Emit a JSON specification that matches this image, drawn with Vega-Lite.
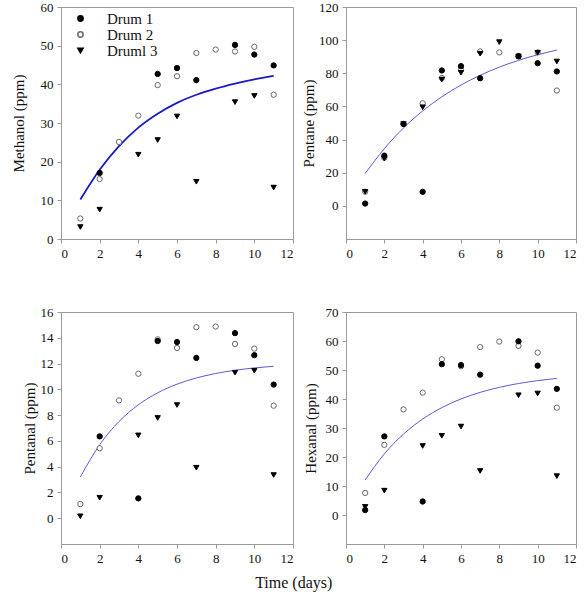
{
  "$schema": "https://vega.github.io/schema/vega-lite/v6.json",
  "background": "white",
  "padding": {"left": 10, "top": 0, "right": 5, "bottom": 5},
  "config": {
    "view": {"stroke": "#9a9a9a", "strokeWidth": 1},
    "axis": {
      "grid": false,
      "domainColor": "#9a9a9a",
      "tickColor": "#9a9a9a",
      "tickSize": 4,
      "labelFont": "Liberation Serif",
      "labelFontSize": 13,
      "labelColor": "#111",
      "labelPadding": 4,
      "titleFont": "Liberation Serif",
      "titleFontSize": 15,
      "titleFontWeight": "normal",
      "titleColor": "#111"
    }
  },
  "title": {"text": "Time (days)", "orient": "bottom", "anchor": "middle", "fontSize": 16, "fontWeight": "normal", "font": "Liberation Serif", "color": "#111", "offset": 9},
  "datasets": {
    "points": [
      {"panel": "M", "drum": "Drum 2", "day": 1, "value": 5.3},
      {"panel": "M", "drum": "Drum 2", "day": 2, "value": 15.5},
      {"panel": "M", "drum": "Drum 2", "day": 3, "value": 25.1},
      {"panel": "M", "drum": "Drum 2", "day": 4, "value": 31.9},
      {"panel": "M", "drum": "Drum 2", "day": 5, "value": 39.8},
      {"panel": "M", "drum": "Drum 2", "day": 6, "value": 42.1},
      {"panel": "M", "drum": "Drum 2", "day": 7, "value": 48.1},
      {"panel": "M", "drum": "Drum 2", "day": 8, "value": 49.0},
      {"panel": "M", "drum": "Drum 2", "day": 9, "value": 48.5},
      {"panel": "M", "drum": "Drum 2", "day": 10, "value": 49.7},
      {"panel": "M", "drum": "Drum 2", "day": 11, "value": 37.3},
      {"panel": "M", "drum": "Drum 1", "day": 2, "value": 17.1},
      {"panel": "M", "drum": "Drum 1", "day": 5, "value": 42.7},
      {"panel": "M", "drum": "Drum 1", "day": 6, "value": 44.2},
      {"panel": "M", "drum": "Drum 1", "day": 7, "value": 41.1},
      {"panel": "M", "drum": "Drum 1", "day": 9, "value": 50.2},
      {"panel": "M", "drum": "Drum 1", "day": 10, "value": 47.7},
      {"panel": "M", "drum": "Drum 1", "day": 11, "value": 44.9},
      {"panel": "M", "drum": "Druml 3", "day": 1, "value": 3.1},
      {"panel": "M", "drum": "Druml 3", "day": 2, "value": 7.6},
      {"panel": "M", "drum": "Druml 3", "day": 4, "value": 21.8},
      {"panel": "M", "drum": "Druml 3", "day": 5, "value": 25.6},
      {"panel": "M", "drum": "Druml 3", "day": 6, "value": 31.7},
      {"panel": "M", "drum": "Druml 3", "day": 7, "value": 14.8},
      {"panel": "M", "drum": "Druml 3", "day": 9, "value": 35.4},
      {"panel": "M", "drum": "Druml 3", "day": 10, "value": 37.0},
      {"panel": "M", "drum": "Druml 3", "day": 11, "value": 13.3},

      {"panel": "P", "drum": "Drum 2", "day": 1, "value": 8.5},
      {"panel": "P", "drum": "Drum 2", "day": 2, "value": 29.0},
      {"panel": "P", "drum": "Drum 2", "day": 3, "value": 49.4},
      {"panel": "P", "drum": "Drum 2", "day": 4, "value": 61.9},
      {"panel": "P", "drum": "Drum 2", "day": 5, "value": 77.2},
      {"panel": "P", "drum": "Drum 2", "day": 6, "value": 82.1},
      {"panel": "P", "drum": "Drum 2", "day": 7, "value": 93.2},
      {"panel": "P", "drum": "Drum 2", "day": 8, "value": 92.6},
      {"panel": "P", "drum": "Drum 2", "day": 9, "value": 90.4},
      {"panel": "P", "drum": "Drum 2", "day": 10, "value": 92.6},
      {"panel": "P", "drum": "Drum 2", "day": 11, "value": 69.6},
      {"panel": "P", "drum": "Drum 1", "day": 1, "value": 1.4},
      {"panel": "P", "drum": "Drum 1", "day": 2, "value": 30.3},
      {"panel": "P", "drum": "Drum 1", "day": 3, "value": 49.4},
      {"panel": "P", "drum": "Drum 1", "day": 4, "value": 8.5},
      {"panel": "P", "drum": "Drum 1", "day": 5, "value": 81.7},
      {"panel": "P", "drum": "Drum 1", "day": 6, "value": 84.3},
      {"panel": "P", "drum": "Drum 1", "day": 7, "value": 77.0},
      {"panel": "P", "drum": "Drum 1", "day": 9, "value": 90.2},
      {"panel": "P", "drum": "Drum 1", "day": 10, "value": 86.1},
      {"panel": "P", "drum": "Drum 1", "day": 11, "value": 81.1},
      {"panel": "P", "drum": "Druml 3", "day": 1, "value": 8.5},
      {"panel": "P", "drum": "Druml 3", "day": 2, "value": 28.6},
      {"panel": "P", "drum": "Druml 3", "day": 3, "value": 49.4},
      {"panel": "P", "drum": "Druml 3", "day": 4, "value": 59.5},
      {"panel": "P", "drum": "Druml 3", "day": 5, "value": 76.2},
      {"panel": "P", "drum": "Druml 3", "day": 6, "value": 80.3},
      {"panel": "P", "drum": "Druml 3", "day": 7, "value": 91.8},
      {"panel": "P", "drum": "Druml 3", "day": 8, "value": 98.8},
      {"panel": "P", "drum": "Druml 3", "day": 9, "value": 90.2},
      {"panel": "P", "drum": "Druml 3", "day": 10, "value": 92.4},
      {"panel": "P", "drum": "Druml 3", "day": 11, "value": 87.1},

      {"panel": "N", "drum": "Drum 2", "day": 1, "value": 1.1},
      {"panel": "N", "drum": "Drum 2", "day": 2, "value": 5.43},
      {"panel": "N", "drum": "Drum 2", "day": 3, "value": 9.14},
      {"panel": "N", "drum": "Drum 2", "day": 4, "value": 11.21},
      {"panel": "N", "drum": "Drum 2", "day": 5, "value": 13.88},
      {"panel": "N", "drum": "Drum 2", "day": 6, "value": 13.21},
      {"panel": "N", "drum": "Drum 2", "day": 7, "value": 14.82},
      {"panel": "N", "drum": "Drum 2", "day": 8, "value": 14.87},
      {"panel": "N", "drum": "Drum 2", "day": 9, "value": 13.52},
      {"panel": "N", "drum": "Drum 2", "day": 10, "value": 13.16},
      {"panel": "N", "drum": "Drum 2", "day": 11, "value": 8.73},
      {"panel": "N", "drum": "Drum 1", "day": 2, "value": 6.35},
      {"panel": "N", "drum": "Drum 1", "day": 4, "value": 1.54},
      {"panel": "N", "drum": "Drum 1", "day": 5, "value": 13.75},
      {"panel": "N", "drum": "Drum 1", "day": 6, "value": 13.67},
      {"panel": "N", "drum": "Drum 1", "day": 7, "value": 12.44},
      {"panel": "N", "drum": "Drum 1", "day": 9, "value": 14.36},
      {"panel": "N", "drum": "Drum 1", "day": 10, "value": 12.65},
      {"panel": "N", "drum": "Drum 1", "day": 11, "value": 10.37},
      {"panel": "N", "drum": "Druml 3", "day": 1, "value": 0.15},
      {"panel": "N", "drum": "Druml 3", "day": 2, "value": 1.59},
      {"panel": "N", "drum": "Druml 3", "day": 4, "value": 6.43},
      {"panel": "N", "drum": "Druml 3", "day": 5, "value": 7.78},
      {"panel": "N", "drum": "Druml 3", "day": 6, "value": 8.78},
      {"panel": "N", "drum": "Druml 3", "day": 7, "value": 3.92},
      {"panel": "N", "drum": "Druml 3", "day": 9, "value": 11.29},
      {"panel": "N", "drum": "Druml 3", "day": 10, "value": 11.44},
      {"panel": "N", "drum": "Druml 3", "day": 11, "value": 3.35},

      {"panel": "H", "drum": "Drum 2", "day": 1, "value": 7.6},
      {"panel": "H", "drum": "Drum 2", "day": 2, "value": 24.2},
      {"panel": "H", "drum": "Drum 2", "day": 3, "value": 36.4},
      {"panel": "H", "drum": "Drum 2", "day": 4, "value": 42.2},
      {"panel": "H", "drum": "Drum 2", "day": 5, "value": 53.7},
      {"panel": "H", "drum": "Drum 2", "day": 6, "value": 51.3},
      {"panel": "H", "drum": "Drum 2", "day": 7, "value": 57.9},
      {"panel": "H", "drum": "Drum 2", "day": 8, "value": 59.8},
      {"panel": "H", "drum": "Drum 2", "day": 9, "value": 58.3},
      {"panel": "H", "drum": "Drum 2", "day": 10, "value": 56.0},
      {"panel": "H", "drum": "Drum 2", "day": 11, "value": 37.0},
      {"panel": "H", "drum": "Drum 1", "day": 1, "value": 1.7},
      {"panel": "H", "drum": "Drum 1", "day": 2, "value": 27.1},
      {"panel": "H", "drum": "Drum 1", "day": 4, "value": 4.65},
      {"panel": "H", "drum": "Drum 1", "day": 5, "value": 52.0},
      {"panel": "H", "drum": "Drum 1", "day": 6, "value": 51.7},
      {"panel": "H", "drum": "Drum 1", "day": 7, "value": 48.4},
      {"panel": "H", "drum": "Drum 1", "day": 9, "value": 59.9},
      {"panel": "H", "drum": "Drum 1", "day": 10, "value": 51.5},
      {"panel": "H", "drum": "Drum 1", "day": 11, "value": 43.5},
      {"panel": "H", "drum": "Druml 3", "day": 1, "value": 2.8},
      {"panel": "H", "drum": "Druml 3", "day": 2, "value": 8.4},
      {"panel": "H", "drum": "Druml 3", "day": 4, "value": 23.8},
      {"panel": "H", "drum": "Druml 3", "day": 5, "value": 27.3},
      {"panel": "H", "drum": "Druml 3", "day": 6, "value": 30.5},
      {"panel": "H", "drum": "Druml 3", "day": 7, "value": 15.2},
      {"panel": "H", "drum": "Druml 3", "day": 9, "value": 41.3},
      {"panel": "H", "drum": "Druml 3", "day": 10, "value": 41.9},
      {"panel": "H", "drum": "Druml 3", "day": 11, "value": 13.4}
    ],
    "fits": [
      {"panel": "M", "day": 1, "value": 10.2}, {"panel": "M", "day": 2, "value": 17.9}, {"panel": "M", "day": 3, "value": 24.0}, {"panel": "M", "day": 4, "value": 28.8}, {"panel": "M", "day": 5, "value": 32.4}, {"panel": "M", "day": 6, "value": 35.2}, {"panel": "M", "day": 7, "value": 37.3}, {"panel": "M", "day": 8, "value": 38.9}, {"panel": "M", "day": 9, "value": 40.2}, {"panel": "M", "day": 10, "value": 41.3}, {"panel": "M", "day": 11, "value": 42.2},
      {"panel": "P", "day": 1, "value": 19.5}, {"panel": "P", "day": 2, "value": 34.5}, {"panel": "P", "day": 3, "value": 47.0}, {"panel": "P", "day": 4, "value": 57.3}, {"panel": "P", "day": 5, "value": 65.8}, {"panel": "P", "day": 6, "value": 72.9}, {"panel": "P", "day": 7, "value": 78.8}, {"panel": "P", "day": 8, "value": 83.7}, {"panel": "P", "day": 9, "value": 87.8}, {"panel": "P", "day": 10, "value": 91.2}, {"panel": "P", "day": 11, "value": 94.0},
      {"panel": "N", "day": 1, "value": 3.2}, {"panel": "N", "day": 2, "value": 5.7}, {"panel": "N", "day": 3, "value": 7.5}, {"panel": "N", "day": 4, "value": 8.8}, {"panel": "N", "day": 5, "value": 9.73}, {"panel": "N", "day": 6, "value": 10.4}, {"panel": "N", "day": 7, "value": 10.88}, {"panel": "N", "day": 8, "value": 11.23}, {"panel": "N", "day": 9, "value": 11.48}, {"panel": "N", "day": 10, "value": 11.66}, {"panel": "N", "day": 11, "value": 11.79},
      {"panel": "H", "day": 1, "value": 12.1}, {"panel": "H", "day": 2, "value": 21.08}, {"panel": "H", "day": 3, "value": 27.9}, {"panel": "H", "day": 4, "value": 33.09}, {"panel": "H", "day": 5, "value": 37.02}, {"panel": "H", "day": 6, "value": 40.02}, {"panel": "H", "day": 7, "value": 42.29}, {"panel": "H", "day": 8, "value": 44.02}, {"panel": "H", "day": 9, "value": 45.34}, {"panel": "H", "day": 10, "value": 46.34}, {"panel": "H", "day": 11, "value": 47.1}
    ]
  },
  "columns": 2,
  "bounds": "flush",
  "spacing": {"row": 73, "column": 53},
  "resolve": {
    "scale": {"shape": "independent", "fill": "independent", "stroke": "independent"},
    "legend": {"shape": "independent", "fill": "independent", "stroke": "independent"}
  },
  "concat": [
    {
      "width": 232, "height": 232,
      "encoding": {
        "x": {"field": "day", "type": "quantitative", "scale": {"domain": [0, 12], "nice": false}, "axis": {"values": [0, 2, 4, 6, 8, 10, 12], "title": null, "labelFont": "Liberation Serif"}},
        "y": {"field": "value", "type": "quantitative", "scale": {"domain": [0, 60], "nice": false}, "axis": {"values": [0, 10, 20, 30, 40, 50, 60], "labelFont": "Liberation Serif", "title": "Methanol (ppm)", "titleFont": "Liberation Serif", "titleFontWeight": "normal", "titleX": -43, "titleY": 116, "titleBaseline": "middle", "titleAngle": -90}}
      },
      "layer": [
        {"data": {"name": "fits"}, "transform": [{"filter": "datum.panel === 'M'"}], "mark": {"type": "line", "interpolate": "monotone", "color": "#1a1ac8", "strokeWidth": 1.8}, "encoding": {}},
        {"data": {"name": "points"}, "transform": [{"filter": "datum.panel === 'M'"}], "mark": {"type": "point", "opacity": 1, "size": 28, "strokeWidth": 1},
          "encoding": {
            "shape": {"field": "drum", "type": "nominal", "scale": {"domain": ["Drum 1", "Drum 2", "Druml 3"], "range": ["circle", "circle", "triangle-down"]}, "legend": {"title": null, "orient": "none", "legendX": 12, "legendY": 4, "labelFont": "Liberation Serif", "labelFontSize": 15, "labelColor": "#111", "symbolSize": 28, "labelOffset": 19, "rowPadding": 0, "padding": 0}},
            "fill": {"field": "drum", "type": "nominal", "scale": {"domain": ["Drum 1", "Drum 2", "Druml 3"], "range": ["black", "white", "black"]}, "legend": {"title": null, "orient": "none", "legendX": 12, "legendY": 4, "labelFont": "Liberation Serif", "labelFontSize": 15, "labelColor": "#111", "symbolSize": 28, "labelOffset": 19, "rowPadding": 0, "padding": 0}},
            "stroke": {"field": "drum", "type": "nominal", "scale": {"domain": ["Drum 1", "Drum 2", "Druml 3"], "range": ["black", "#6a6a6a", "black"]}, "legend": {"title": null, "orient": "none", "legendX": 12, "legendY": 4, "labelFont": "Liberation Serif", "labelFontSize": 15, "labelColor": "#111", "symbolSize": 28, "labelOffset": 19, "rowPadding": 0, "padding": 0}}
          }
        }
      ]
    },
    {
      "width": 230, "height": 232,
      "encoding": {
        "x": {"field": "day", "type": "quantitative", "scale": {"domain": [0, 12], "nice": false}, "axis": {"values": [0, 2, 4, 6, 8, 10, 12], "title": null, "labelFont": "Liberation Serif"}},
        "y": {"field": "value", "type": "quantitative", "scale": {"domain": [-20, 120], "nice": false}, "axis": {"values": [0, 20, 40, 60, 80, 100, 120], "labelFont": "Liberation Serif", "title": "Pentane (ppm)", "titleFont": "Liberation Serif", "titleFontWeight": "normal", "titleX": -38, "titleY": 116, "titleBaseline": "middle", "titleAngle": -90}}
      },
      "layer": [
        {"data": {"name": "fits"}, "transform": [{"filter": "datum.panel === 'P'"}], "mark": {"type": "line", "interpolate": "monotone", "color": "#5a5ad6", "strokeWidth": 1}, "encoding": {}},
        {"data": {"name": "points"}, "transform": [{"filter": "datum.panel === 'P'"}], "mark": {"type": "point", "opacity": 1, "size": 28, "strokeWidth": 1},
          "encoding": {
            "shape": {"field": "drum", "type": "nominal", "scale": {"domain": ["Drum 1", "Drum 2", "Druml 3"], "range": ["circle", "circle", "triangle-down"]}, "legend": null},
            "fill": {"field": "drum", "type": "nominal", "scale": {"domain": ["Drum 1", "Drum 2", "Druml 3"], "range": ["black", "white", "black"]}, "legend": null},
            "stroke": {"field": "drum", "type": "nominal", "scale": {"domain": ["Drum 1", "Drum 2", "Druml 3"], "range": ["black", "#6a6a6a", "black"]}, "legend": null}
          }
        }
      ]
    },
    {
      "width": 232, "height": 232,
      "encoding": {
        "x": {"field": "day", "type": "quantitative", "scale": {"domain": [0, 12], "nice": false}, "axis": {"values": [0, 2, 4, 6, 8, 10, 12], "title": null, "labelFont": "Liberation Serif"}},
        "y": {"field": "value", "type": "quantitative", "scale": {"domain": [-2, 16], "nice": false}, "axis": {"values": [0, 2, 4, 6, 8, 10, 12, 14, 16], "labelFont": "Liberation Serif", "title": "Pentanal (ppm)", "titleFont": "Liberation Serif", "titleFontWeight": "normal", "titleX": -32, "titleY": 116, "titleBaseline": "middle", "titleAngle": -90}}
      },
      "layer": [
        {"data": {"name": "fits"}, "transform": [{"filter": "datum.panel === 'N'"}], "mark": {"type": "line", "interpolate": "monotone", "color": "#5a5ad6", "strokeWidth": 1}, "encoding": {}},
        {"data": {"name": "points"}, "transform": [{"filter": "datum.panel === 'N'"}], "mark": {"type": "point", "opacity": 1, "size": 28, "strokeWidth": 1},
          "encoding": {
            "shape": {"field": "drum", "type": "nominal", "scale": {"domain": ["Drum 1", "Drum 2", "Druml 3"], "range": ["circle", "circle", "triangle-down"]}, "legend": null},
            "fill": {"field": "drum", "type": "nominal", "scale": {"domain": ["Drum 1", "Drum 2", "Druml 3"], "range": ["black", "white", "black"]}, "legend": null},
            "stroke": {"field": "drum", "type": "nominal", "scale": {"domain": ["Drum 1", "Drum 2", "Druml 3"], "range": ["black", "#6a6a6a", "black"]}, "legend": null}
          }
        }
      ]
    },
    {
      "width": 230, "height": 232,
      "encoding": {
        "x": {"field": "day", "type": "quantitative", "scale": {"domain": [0, 12], "nice": false}, "axis": {"values": [0, 2, 4, 6, 8, 10, 12], "title": null, "labelFont": "Liberation Serif"}},
        "y": {"field": "value", "type": "quantitative", "scale": {"domain": [-10, 70], "nice": false}, "axis": {"values": [0, 10, 20, 30, 40, 50, 60, 70], "labelFont": "Liberation Serif", "title": "Hexanal (ppm)", "titleFont": "Liberation Serif", "titleFontWeight": "normal", "titleX": -36, "titleY": 116, "titleBaseline": "middle", "titleAngle": -90}}
      },
      "layer": [
        {"data": {"name": "fits"}, "transform": [{"filter": "datum.panel === 'H'"}], "mark": {"type": "line", "interpolate": "monotone", "color": "#5a5ad6", "strokeWidth": 1}, "encoding": {}},
        {"data": {"name": "points"}, "transform": [{"filter": "datum.panel === 'H'"}], "mark": {"type": "point", "opacity": 1, "size": 28, "strokeWidth": 1},
          "encoding": {
            "shape": {"field": "drum", "type": "nominal", "scale": {"domain": ["Drum 1", "Drum 2", "Druml 3"], "range": ["circle", "circle", "triangle-down"]}, "legend": null},
            "fill": {"field": "drum", "type": "nominal", "scale": {"domain": ["Drum 1", "Drum 2", "Druml 3"], "range": ["black", "white", "black"]}, "legend": null},
            "stroke": {"field": "drum", "type": "nominal", "scale": {"domain": ["Drum 1", "Drum 2", "Druml 3"], "range": ["black", "#6a6a6a", "black"]}, "legend": null}
          }
        }
      ]
    }
  ]
}
